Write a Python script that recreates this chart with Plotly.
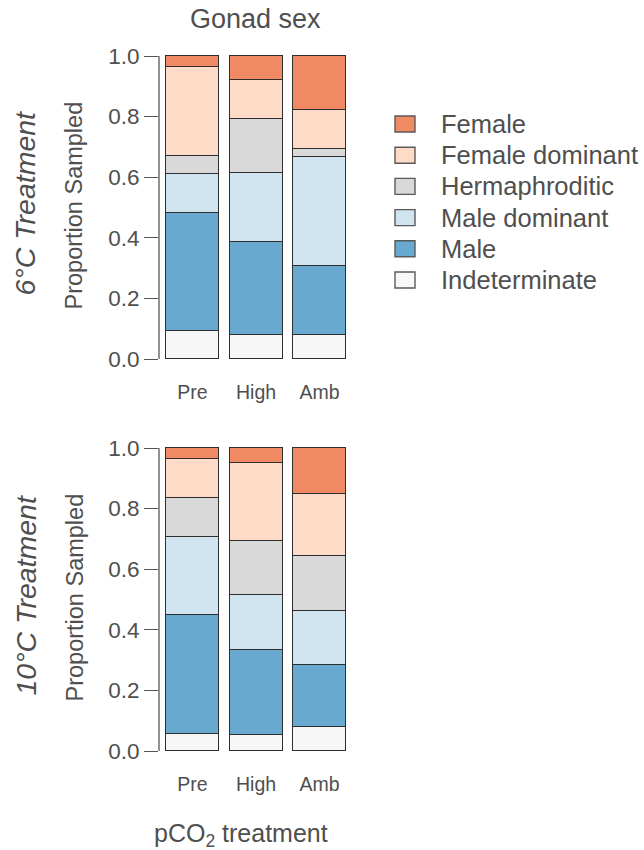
import plotly.graph_objects as go

# Sampling groups along the x axis
treatments = ["Pre", "High", "Amb"]

# Gonad categories, stacked bottom to top
categories = ["Indeterminate", "Male", "Male dominant", "Hermaphroditic",
              "Female dominant", "Female"]
colors = ["#F7F7F7", "#67A9CF", "#D1E5F0", "#D9D9D9", "#FDDBC7", "#EF8A62"]

# Proportions sampled, 6°C treatment (Pre, High, Amb)
indet_6c = [0.093, 0.078, 0.078]
male_6c = [0.388, 0.307, 0.227]
male_dom_6c = [0.129, 0.228, 0.361]
herm_6c = [0.058, 0.180, 0.026]
fem_dom_6c = [0.294, 0.128, 0.128]
female_6c = [0.038, 0.079, 0.180]

# Proportions sampled, 10°C treatment (Pre, High, Amb)
indet_10c = [0.055, 0.052, 0.077]
male_10c = [0.392, 0.281, 0.205]
male_dom_10c = [0.259, 0.182, 0.180]
herm_10c = [0.127, 0.178, 0.180]
fem_dom_10c = [0.131, 0.256, 0.206]
female_10c = [0.036, 0.051, 0.152]

yticks = [0.0, 0.2, 0.4, 0.6, 0.8, 1.0]

W, H = 644, 850
FONT = "Liberation Sans, Arial, Helvetica, sans-serif"
TXT = "#4f4f4f"
AX = "#555555"


def fx(p):
    return p / W


def fy(p):
    return 1 - p / H


panels = [
    ("x", "y", [indet_6c, male_6c, male_dom_6c, herm_6c, fem_dom_6c, female_6c]),
    ("x2", "y2", [indet_10c, male_10c, male_dom_10c, herm_10c, fem_dom_10c, female_10c]),
]

fig = go.Figure()
for xa, ya, series in panels:
    for name, col, vals in zip(categories, colors, series):
        fig.add_trace(go.Bar(
            x=list(range(len(treatments))), y=vals, name=name,
            xaxis=xa, yaxis=ya, width=0.835,
            marker=dict(color=col, line=dict(color="#2e2e2e", width=1.2)),
            showlegend=False, hoverinfo="skip",
        ))

# panel geometry in pixels: value 0 and value 1 rows, plot left/right
PAD = 0.006
UNIT = 303
XL, XR = 159, 347
tops = [(359, 56), (751, 448)]


def ydom(p0, p1):
    return [fy(p0 + PAD * UNIT), fy(p1 - PAD * UNIT)]


xcommon = dict(
    domain=[fx(XL), fx(XR)], range=[-0.528, 2.433],
    tickvals=list(range(len(treatments))), ticktext=treatments,
    showgrid=False, zeroline=False, showline=False, automargin=False,
    ticks="outside", ticklen=14, tickcolor="rgba(0,0,0,0)",
    tickfont=dict(family=FONT, size=19.5, color=TXT), fixedrange=True,
)
ycommon = dict(
    range=[-PAD, 1 + PAD], tickvals=yticks,
    ticktext=[f"{v:.1f}" for v in yticks],
    showgrid=False, zeroline=False, showline=False, automargin=False,
    ticks="outside", ticklen=14, tickwidth=1.3, tickcolor=AX,
    tickfont=dict(family=FONT, size=22.5, color=TXT), fixedrange=True,
)

fig.update_layout(
    template="none",
    width=W, height=H, margin=dict(l=0, r=0, t=0, b=0, pad=0, autoexpand=False),
    paper_bgcolor="white", plot_bgcolor="white", showlegend=False,
    barmode="stack", bargap=0,
    xaxis=dict(**xcommon, anchor="y"),
    yaxis=dict(**ycommon, domain=ydom(*tops[0]), anchor="x"),
    xaxis2=dict(**xcommon, anchor="y2"),
    yaxis2=dict(**ycommon, domain=ydom(*tops[1]), anchor="x2"),
)

shapes = []
# y axis lines spanning 0..1 only
for xa, ya in [("x", "y"), ("x2", "y2")]:
    shapes.append(dict(type="line", xref=f"{xa} domain", yref=ya,
                       x0=0, x1=0, y0=0, y1=1,
                       line=dict(color=AX, width=1.3)))

annotations = [
    dict(text="Gonad sex", x=fx(256), y=fy(19), xref="paper", yref="paper",
         showarrow=False, xanchor="center", yanchor="middle",
         font=dict(family=FONT, size=27, color=TXT)),
    dict(text="pCO<sub>2</sub> treatment", x=fx(241), y=fy(835),
         xref="paper", yref="paper", showarrow=False,
         xanchor="center", yanchor="middle",
         font=dict(family=FONT, size=25, color=TXT)),
]
for (p0, p1), lab in zip(tops, ["6°C Treatment", "10°C Treatment"]):
    mid = (p0 + p1) / 2
    annotations.append(dict(
        text=f"<i>{lab}</i>", x=fx(25), y=fy(mid - 4), xref="paper", yref="paper",
        showarrow=False, textangle=-90, xanchor="center", yanchor="middle",
        font=dict(family=FONT, size=28.5, color=TXT)))
    annotations.append(dict(
        text="Proportion Sampled", x=fx(74), y=fy(mid - 2), xref="paper",
        yref="paper", showarrow=False, textangle=-90,
        xanchor="center", yanchor="middle",
        font=dict(family=FONT, size=23.5, color=TXT)))

# legend: Female at the top down to Indeterminate
row0, step = 124, 31.2
for i, (name, col) in enumerate(zip(categories[::-1], colors[::-1])):
    cy = row0 + i * step
    shapes.append(dict(type="rect", xref="paper", yref="paper",
                       x0=fx(395), x1=fx(415), y0=fy(cy + 8), y1=fy(cy - 8),
                       fillcolor=col, line=dict(color="#5a5a5a", width=1.4)))
    annotations.append(dict(text=name, x=fx(439), y=fy(cy), xref="paper",
                            yref="paper", showarrow=False, xanchor="left",
                            yanchor="middle",
                            font=dict(family=FONT, size=25.5, color=TXT)))

fig.update_layout(shapes=shapes, annotations=annotations)
fig.write_html("out.html")
